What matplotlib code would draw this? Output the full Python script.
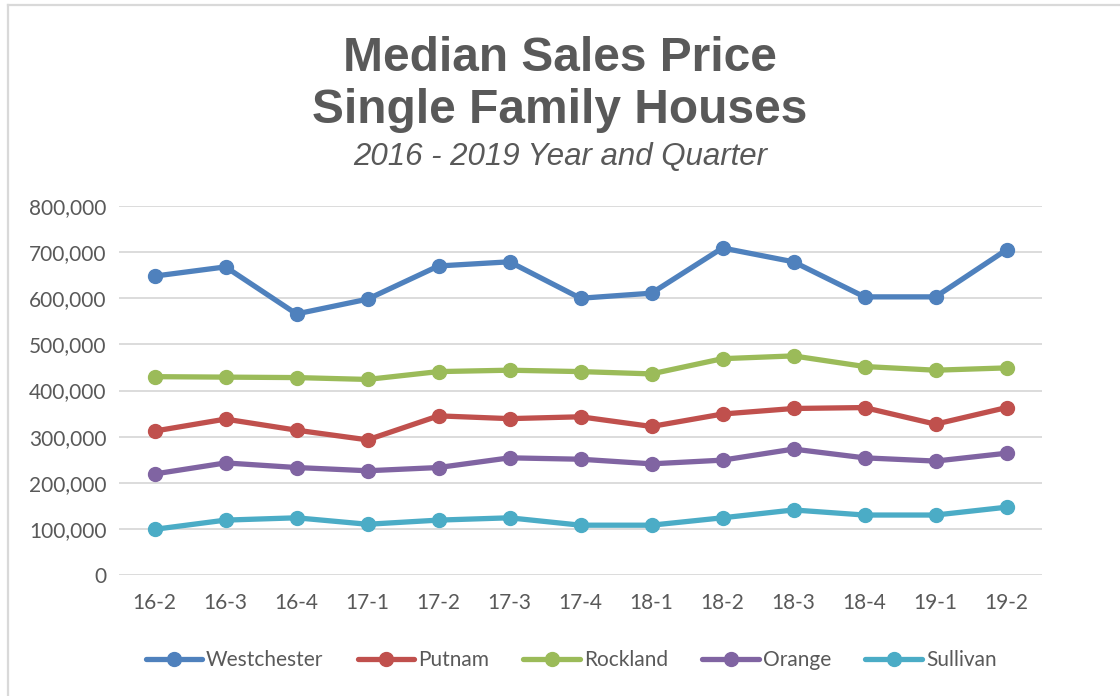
import matplotlib
matplotlib.use("Agg")
import matplotlib.pyplot as plt
from matplotlib.ticker import FuncFormatter, MultipleLocator
from matplotlib.lines import Line2D

quarters = ["16-2", "16-3", "16-4", "17-1", "17-2", "17-3", "17-4",
            "18-1", "18-2", "18-3", "18-4", "19-1", "19-2"]
westchester = [648000, 668000, 566000, 598000, 670000, 679000, 600000,
               611000, 709000, 679000, 603000, 603000, 705000]
putnam = [312000, 338000, 314000, 293000, 345000, 339000, 343000,
          322000, 349000, 361000, 363000, 327000, 363000]
rockland = [430000, 429000, 428000, 424000, 441000, 444000, 441000,
            436000, 469000, 475000, 452000, 444000, 449000]
orange = [219000, 243000, 233000, 226000, 233000, 254000, 251000,
          241000, 249000, 273000, 254000, 247000, 264000]
sullivan = [99000, 119000, 124000, 110000, 119000, 124000, 108000,
            108000, 124000, 141000, 130000, 130000, 147000]

series = [("Westchester", westchester, "#4F81BD"),
          ("Putnam", putnam, "#C0504D"),
          ("Rockland", rockland, "#9BBB59"),
          ("Orange", orange, "#8064A2"),
          ("Sullivan", sullivan, "#4BACC6")]

plt.rcParams['font.family'] = ['Lato', 'DejaVu Sans']
gray = "#595959"
W, H = 1120, 696

fig = plt.figure(figsize=(11.2, 6.96), dpi=100)
# chart-area border (only left and top edges visible in the crop)
fig.add_artist(Line2D([7.5/W, 7.5/W], [0, 1 - 5/H], transform=fig.transFigure,
                      color="#D9D9D9", linewidth=1.6))
fig.add_artist(Line2D([7.5/W, 1], [1 - 5/H, 1 - 5/H], transform=fig.transFigure,
                      color="#D9D9D9", linewidth=1.6))

ax = fig.add_axes([119/W, 1 - 575/H, (1042 - 119)/W, (575 - 206)/H])

x = list(range(len(quarters)))
for name, vals, col in series:
    ax.plot(x, vals, color=col, linewidth=3.8, marker="o", markersize=10,
            label=name, solid_capstyle="round")

ax.set_xlim(-0.5, len(quarters) - 0.5)
ax.set_ylim(0, 800000)
ax.yaxis.set_major_locator(MultipleLocator(100000))
ax.yaxis.set_major_formatter(FuncFormatter(lambda v, p: f"{int(v):,}"))
ax.set_xticks(x)
ax.set_xticklabels(quarters)
ax.grid(axis="y", color="#D9D9D9", linewidth=1.3)
ax.set_axisbelow(True)
for s in ax.spines.values():
    s.set_visible(False)
ax.tick_params(axis="both", length=0, labelsize=15, labelcolor=gray)
ax.tick_params(axis="x", pad=13)
ax.tick_params(axis="y", pad=9)

title_font = ['Liberation Sans', 'DejaVu Sans']
fig.text(0.5, 1 - 71/H, "Median Sales Price", ha="center", va="baseline",
         fontsize=34.5, fontweight="bold", color=gray, family=title_font)
fig.text(0.5, 1 - 123/H, "Single Family Houses", ha="center", va="baseline",
         fontsize=34.5, fontweight="bold", color=gray, family=title_font)
fig.text(0.5, 1 - 165/H, "2016 - 2019 Year and Quarter", ha="center", va="baseline",
         fontsize=22.5, fontstyle="italic", color=gray, family=title_font)

leg = fig.legend(loc="center", bbox_to_anchor=(571/W, 1 - 660/H), ncol=5,
                 frameon=False, fontsize=15, handlelength=2.7, columnspacing=1.65,
                 handletextpad=0.2)
for t in leg.get_texts():
    t.set_color(gray)

fig.savefig("out.png", dpi=100)
